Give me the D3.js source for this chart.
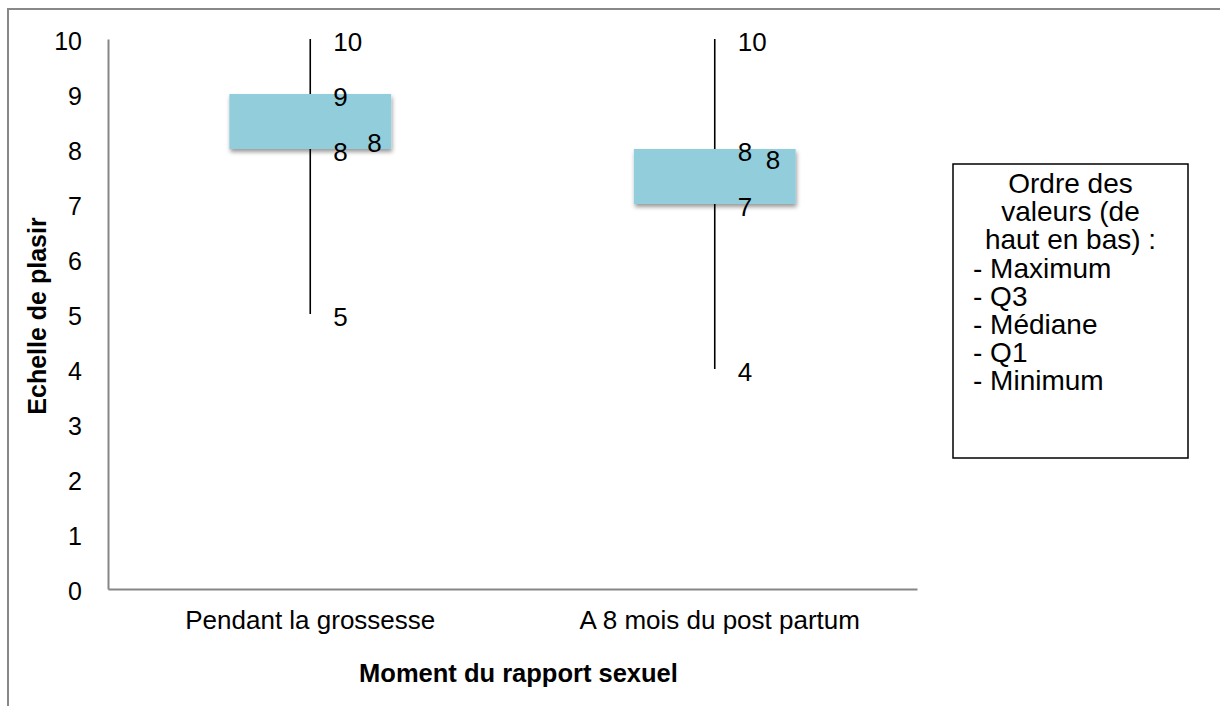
<!DOCTYPE html>
<html>
<head>
<meta charset="utf-8">
<script src="https://cdn.jsdelivr.net/npm/d3@7"></script>
<style>
  html, body { margin: 0; padding: 0; background: #fff; }
  svg { display: block; font-family: "Liberation Sans", Arial, sans-serif; }
</style>
</head>
<body>
<svg id="chart" width="1220" height="706"></svg>
<script>
// données : boîte à moustaches (min, Q1, médiane, Q3, max)
const categories = ['Pendant la grossesse', 'A 8 mois du post partum'];
const minimum = [5, 4];
const q1 = [8, 7];
const mediane = [8, 8];
const q3 = [9, 8];
const maximum = [10, 10];
const yTicks = [0, 1, 2, 3, 4, 5, 6, 7, 8, 9, 10];
const legendLines = ['Ordre des', 'valeurs (de', 'haut en bas) :', '- Maximum', '- Q3', '- Médiane', '- Q1', '- Minimum'];

// placement manuel des étiquettes de médiane (comme dans Excel)
const medNudge = [{ dx: 57, dy: -7 }, { dx: 51, dy: 10 }];

const svg = d3.select('#chart');
const plot = { left: 108, right: 917, top: 39, bottom: 589 };

const x = d3.scaleBand().domain(categories).range([plot.left, plot.right]).padding(0);
const y = d3.scaleLinear().domain([0, 10]).range([plot.bottom, plot.top]);

// cadre extérieur (coupé à droite et en bas)
svg.append('path')
  .attr('d', 'M8,706 L8,9 L1220,9')
  .attr('fill', 'none').attr('stroke', '#888').attr('stroke-width', 2);

// ombre des boîtes
const defs = svg.append('defs');
const f = defs.append('filter').attr('id', 'shadow')
  .attr('x', '-10%').attr('y', '-20%').attr('width', '130%').attr('height', '160%');
f.append('feDropShadow').attr('dx', 1).attr('dy', 3).attr('stdDeviation', 2)
  .attr('flood-color', '#000').attr('flood-opacity', 0.4);

// axes
const yAxis = svg.append('g').attr('transform', `translate(${plot.left},0)`)
  .call(d3.axisLeft(y).tickValues(yTicks).tickSize(0).tickPadding(26));
const xAxis = svg.append('g').attr('transform', `translate(0,${plot.bottom})`)
  .call(d3.axisBottom(x).tickSize(0).tickPadding(22));
[yAxis, xAxis].forEach(g => {
  g.select('.domain').attr('stroke', '#868686').attr('stroke-width', 2);
  g.selectAll('text').attr('fill', '#000').attr('font-family', null);
});
yAxis.selectAll('text').attr('font-size', 25).attr('dy', '0.4em');
xAxis.selectAll('text').attr('font-size', 26).attr('dy', '0.68em').attr('dx', (d, i) => i * 5);

const boxW = x.bandwidth() * 0.4;
const cx = i => x(categories[i]) + x.bandwidth() / 2;
const idx = categories.map((c, i) => i);

// moustaches
svg.append('g').selectAll('line').data(idx).join('line')
  .attr('x1', cx).attr('x2', cx)
  .attr('y1', i => y(maximum[i])).attr('y2', i => y(minimum[i]))
  .attr('stroke', '#000').attr('stroke-width', 1.6);

// boîtes Q1–Q3
svg.append('g').selectAll('rect').data(idx).join('rect')
  .attr('x', i => cx(i) - boxW / 2)
  .attr('width', boxW)
  .attr('y', i => y(q3[i]))
  .attr('height', i => y(q1[i]) - y(q3[i]))
  .attr('fill', '#92cddc')
  .attr('filter', 'url(#shadow)');

// étiquettes de valeurs
const labels = [];
idx.forEach(i => {
  [maximum[i], q3[i], q1[i], minimum[i]].forEach(v => labels.push({ x: cx(i) + 23, y: y(v) + 2, t: v }));
  labels.push({ x: cx(i) + medNudge[i].dx, y: y(mediane[i]) + medNudge[i].dy, t: mediane[i] });
});
svg.append('g').selectAll('text').data(labels).join('text')
  .attr('x', d => d.x).attr('y', d => d.y).attr('dy', '0.37em')
  .attr('font-size', 26).text(d => d.t);

// titres d'axes
svg.append('text')
  .attr('transform', `translate(46,${(plot.top + plot.bottom) / 2 + 2}) rotate(-90)`)
  .attr('text-anchor', 'middle').attr('font-weight', 'bold').attr('font-size', 25)
  .text('Echelle de plasir');
svg.append('text')
  .attr('x', (plot.left + plot.right) / 2 + 6).attr('y', 682)
  .attr('text-anchor', 'middle').attr('font-weight', 'bold').attr('font-size', 25.5)
  .text('Moment du rapport sexuel');

// légende (zone de texte)
const lg = { x: 953, y: 164, w: 235, h: 294 };
svg.append('rect').attr('x', lg.x).attr('y', lg.y).attr('width', lg.w).attr('height', lg.h)
  .attr('fill', '#fff').attr('stroke', '#000').attr('stroke-width', 1.5);
svg.append('g').selectAll('text').data(legendLines).join('text')
  .attr('x', (d, i) => i < 3 ? lg.x + lg.w / 2 : lg.x + 20)
  .attr('text-anchor', (d, i) => i < 3 ? 'middle' : 'start')
  .attr('y', (d, i) => 183 + i * 28.2).attr('dy', '0.36em')
  .attr('font-size', 28).text(d => d);
</script>
</body>
</html>
